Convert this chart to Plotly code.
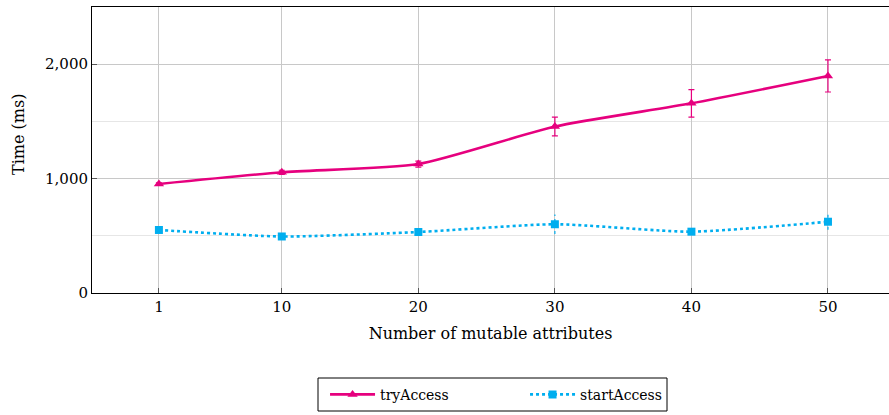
import plotly.graph_objects as go

# Benchmark results: mean time (ms) and spread per number of mutable attributes
attributes = [1, 10, 20, 30, 40, 50]
try_access = [953, 1055, 1127, 1455, 1658, 1897]
try_access_err = [10, 18, 26, 82, 120, 140]
start_access = [551, 494, 533, 601, 536, 623]
start_access_err = [10, 10, 14, 86, 12, 70]

y_ticks = [0, 1000, 2000]
y_minor = [500, 1500]

MAGENTA = "#E6007E"
CYAN = "#00AEEF"
FONT = "DejaVu Serif"

fig = go.Figure()

fig.add_trace(go.Scatter(
    x=attributes, y=try_access, name="tryAccess",
    mode="lines+markers", line=dict(color=MAGENTA, width=2.6, shape="spline", smoothing=0.6),
    marker=dict(symbol="triangle-up", size=9, color=MAGENTA),
    error_y=dict(type="data", array=try_access_err, color=MAGENTA, thickness=1.2, width=3),
))

# Dotted error bars for startAccess, built from the error arrays
ex, ey = [], []
for xv, yv, ev in zip(attributes, start_access, start_access_err):
    ex += [xv, xv, None]
    ey += [yv - ev, yv + ev, None]
fig.add_trace(go.Scatter(
    x=ex, y=ey, mode="lines", showlegend=False, hoverinfo="skip",
    line=dict(color=CYAN, width=1.2, dash="dot"),
))

fig.add_trace(go.Scatter(
    x=attributes, y=start_access, name="startAccess",
    mode="lines+markers", line=dict(color=CYAN, width=2.6, dash="dot", shape="spline", smoothing=0.6),
    marker=dict(symbol="square", size=8, color=CYAN),
))

fig.update_layout(
    width=889, height=415,
    margin=dict(l=92, r=0, t=7, b=122),
    plot_bgcolor="white", paper_bgcolor="white",
    font=dict(family=FONT, size=15, color="black"),
    showlegend=True,
    legend=dict(
        orientation="h", x=0.2924, xanchor="left", y=-0.3, yanchor="top",
        borderwidth=0, bgcolor="rgba(0,0,0,0)", entrywidth=140, itemwidth=45,
        font=dict(family=FONT, size=14),
        traceorder="normal",
    ),
    # Legend frame
    shapes=[dict(
        type="rect", xref="paper", yref="paper",
        x0=(318 - 92) / 797, x1=(667 - 92) / 797,
        y0=(293 - 411) / 286, y1=(293 - 378) / 286,
        line=dict(color="black", width=1), fillcolor="rgba(0,0,0,0)",
    )],
    annotations=[dict(
        text="Time (ms)", textangle=-90, showarrow=False,
        xref="paper", yref="paper", x=(18 - 92) / 797, y=(293 - 135) / 286,
        xanchor="center", yanchor="middle", font=dict(family=FONT, size=16),
    )],
    xaxis=dict(
        range=[-3.9, 54.47], tickvals=attributes, ticktext=[str(a) for a in attributes],
        showgrid=True, gridcolor="#c8c8c8", gridwidth=1,
        showline=True, linecolor="black", linewidth=1, mirror=True,
        ticks="inside", ticklen=5, tickcolor="#555", zeroline=False,
        title=dict(text="Number of mutable attributes", font=dict(size=16), standoff=12),
    ),
    yaxis=dict(
        range=[0, 2500], tickvals=y_ticks, tickformat=",",
        showgrid=True, gridcolor="#c8c8c8", gridwidth=1,
        minor=dict(tickvals=y_minor, showgrid=True, gridcolor="#e6e6e6", gridwidth=1, ticks=""),
        showline=True, linecolor="black", linewidth=1, mirror=False,
        ticks="inside", ticklen=5, tickcolor="#555", zeroline=False,
    ),
)

fig.write_html("out.html")
